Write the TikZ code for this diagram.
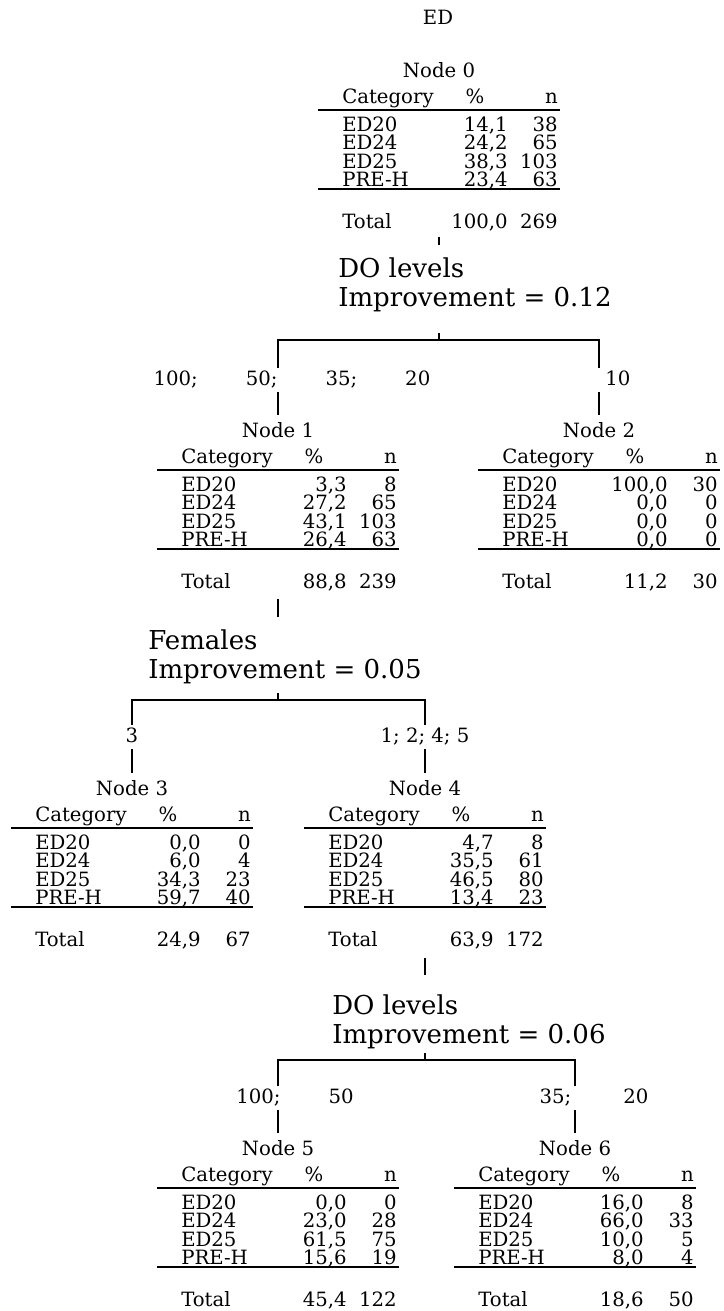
\documentclass[tikz,border=0pt]{standalone}
\usepackage{fontspec}
\setmainfont{DejaVu Serif}
\usetikzlibrary{positioning}

% one box of the tree: #1 number, #2 left end of rules, #3 y of title, #4 rows, #5/#6 totals
\newcommand{\nodetable}[6]{%
  \node[title] (n#1) at (#2+121,#3) {Node #1};
  \node[cell, anchor=base west] (n#1-hc) at (#2+24,#3+31) {Category};
  \node[cell, anchor=base] (n#1-hp) at (#2+157,#3+31) {\%};
  \node[cell, anchor=base east] (n#1-hn) at (#2+240,#3+31) {n};
  \draw[rule] (#2,#3+38) -- (#2+242,#3+38);
  \foreach \cat/\pct/\cnt [count=\i] in {#4} {
    \node[cell, anchor=base west] (n#1-c\i) at (#2+24,#3+40.5+18.5*\i) {\cat};
    \node[cell, anchor=base east] (n#1-p\i) at (#2+190,#3+40.5+18.5*\i) {\pct};
    \node[cell, anchor=base east] (n#1-k\i) at (#2+240,#3+40.5+18.5*\i) {\cnt};
  }
  \draw[rule] (#2,#3+117) -- (#2+242,#3+117);
  \node[cell, anchor=base west] (n#1-tc) at (#2+24,#3+156) {Total};
  \node[cell, anchor=base east] (n#1-tp) at (#2+190,#3+156) {#5};
  \node[cell, anchor=base east] (n#1-tn) at (#2+240,#3+156) {#6};
}

\begin{document}
\begin{tikzpicture}[x=0.025cm, y=-0.025cm,
    cell/.style={inner sep=0pt, font=\fontsize{14}{16}\selectfont},
    title/.style={cell, text height=10pt, text depth=2.5pt, outer ysep=5.8pt},
    lab/.style={cell, text height=10pt, text depth=2.5pt, outer ysep=2.3pt},
    split/.style={inner sep=0pt, anchor=west, font=\fontsize{18.5}{21}\selectfont},
    rule/.style={line width=1pt},
    edge/.style={line width=0.9pt}
]
\useasboundingbox (0,0) rectangle (724,1311);

\node[cell] (resp) at (438,17) {ED};

% level 1
\nodetable{0}{318}{72}{ED20/{14,1}/38, ED24/{24,2}/65, ED25/{38,3}/103, PRE-H/{23,4}/63}{100,0}{269}
\draw[edge] (n0-tn.south -| n0) ++(0,8) -- ++(0,8);
\node[split] (var0) at (338,268) {DO levels};
\node[split] (imp0) at (338,300) {Improvement = 0.12};
\coordinate (j0) at (439,340);
\draw[edge] (j0) -- ++(0,-7);
\node[lab] (l1) at (292,380) {100;\hspace{1.2cm}50;\hspace{1.2cm}35;\hspace{1.2cm}20};
\node[lab, anchor=west] (l2) at (605,380) {10};

\nodetable{1}{157}{432}{ED20/{3,3}/8, ED24/{27,2}/65, ED25/{43,1}/103, PRE-H/{26,4}/63}{88,8}{239}
\nodetable{2}{478}{432}{ED20/{100,0}/30, ED24/{0,0}/0, ED25/{0,0}/0, PRE-H/{0,0}/0}{11,2}{30}
\draw[edge] (l1.north -| n1) -- (j0 -| n1) -- (j0 -| n2) -- (l2.north -| n2);
\draw[edge] (l1.south -| n1) -- (n1.north);
\draw[edge] (l2.south -| n2) -- (n2.north);

% level 2
\draw[edge] (n1-tn.south -| n1) ++(0,10) -- ++(0,18);
\node[split] (var1) at (148,640) {Females};
\node[split] (imp1) at (148,672) {Improvement = 0.05};
\coordinate (j1) at (278,700);
\draw[edge] (j1) -- ++(0,-7);
\node[lab] (l3) at (132,737) {3};
\node[lab] (l4) at (425,737) {1; 2; 4; 5};

\nodetable{3}{11}{790}{ED20/{0,0}/0, ED24/{6,0}/4, ED25/{34,3}/23, PRE-H/{59,7}/40}{24,9}{67}
\nodetable{4}{304}{790}{ED20/{4,7}/8, ED24/{35,5}/61, ED25/{46,5}/80, PRE-H/{13,4}/23}{63,9}{172}
\draw[edge] (l3.north -| n3) -- (j1 -| n3) -- (j1 -| n4) -- (l4.north -| n4);
\draw[edge] (l3.south -| n3) -- (n3.north);
\draw[edge] (l4.south -| n4) -- (n4.north);

% level 3
\draw[edge] (n4-tn.south -| n4) ++(0,12) -- ++(0,17);
\node[split] (var4) at (332,1005) {DO levels};
\node[split] (imp4) at (332,1037) {Improvement = 0.06};
\coordinate (j4) at (425,1060);
\draw[edge] (j4) -- ++(0,-7);
\node[lab] (l5) at (295,1098) {100;\hspace{1.2cm}50};
\node[lab] (l6) at (594,1098) {35;\hspace{1.3cm}20};

\nodetable{5}{157}{1150}{ED20/{0,0}/0, ED24/{23,0}/28, ED25/{61,5}/75, PRE-H/{15,6}/19}{45,4}{122}
\nodetable{6}{454}{1150}{ED20/{16,0}/8, ED24/{66,0}/33, ED25/{10,0}/5, PRE-H/{8,0}/4}{18,6}{50}
\draw[edge] (l5.north -| n5) -- (j4 -| n5) -- (j4 -| n6) -- (l6.north -| n6);
\draw[edge] (l5.south -| n5) -- (n5.north);
\draw[edge] (l6.south -| n6) -- (n6.north);

\end{tikzpicture}
\end{document}
